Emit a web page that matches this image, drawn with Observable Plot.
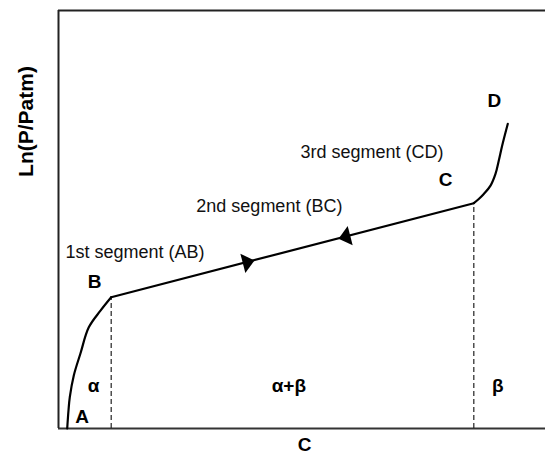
<!DOCTYPE html>
<html>
<head>
<meta charset="utf-8">
<script src="https://cdn.jsdelivr.net/npm/d3@7"></script>
<script src="https://cdn.jsdelivr.net/npm/@observablehq/plot@0.6"></script>
<style>
  html, body { margin: 0; padding: 0; background: #fff; }
  #chart svg { display: block; }
</style>
</head>
<body>
<div id="chart"></div>
<script>
// Curve segments (x: concentration, y: Ln(P/Patm), arbitrary 0–100 units)
const abX = [1.79, 2.05, 2.32, 3.14, 4.52, 6.22, 8.62, 10.82];
const abY = [0, 4.3, 7.5, 12.7, 18.0, 24.2, 28.2, 31.4];
const bcX = [10.82, 85.28];
const bcY = [31.4, 53.9];
const cdX = [85.28, 86.3, 87.33, 88.71, 89.73, 90.41, 91.11, 92.26];
const cdY = [53.9, 54.9, 56.1, 58.1, 60.9, 64.1, 67.7, 72.9];

// Phase boundaries (dashed)
const boundaryX = [10.82, 85.28];
const boundaryTop = [31.4, 53.9];

// Direction arrows on the plateau
const arrowX = [38.85, 58.9];
const arrowY = [39.8, 45.84];
const arrowDir = [1, -1];

// Annotation labels
const segLabels = ["1st segment (AB)", "2nd segment (BC)", "3rd segment (CD)"];
const segLabelX = [1.44, 28.3, 49.7];
const segLabelY = [40.8, 51.7, 64.8];

const pointLabels = ["A", "B", "C", "D"];
const pointLabelX = [4.87, 7.39, 79.5, 89.5];
const pointLabelY = [1.2, 33.7, 58.1, 77.0];

const phaseLabels = ["α", "α+β", "β"];
const phaseLabelX = [7.19, 47.3, 90.2];
const phaseLabelY = [8.85, 8.85, 8.85];

const xLabel = "C";
const yLabel = "Ln(P/Patm)";

// Build tables
const curve = [
  ...abX.map((x, i) => ({seg: "AB", x, y: abY[i]})),
  ...bcX.map((x, i) => ({seg: "BC", x, y: bcY[i]})),
  ...cdX.map((x, i) => ({seg: "CD", x, y: cdY[i]}))
];
const boundaries = boundaryX.map((x, i) => ({x, top: boundaryTop[i]}));
const arrows = arrowX.map((x, i) => ({x, y: arrowY[i], dir: arrowDir[i]}));
const segs = segLabels.map((t, i) => ({t, x: segLabelX[i], y: segLabelY[i]}));
const pts = pointLabels.map((t, i) => ({t, x: pointLabelX[i], y: pointLabelY[i]}));
const phases = phaseLabels.map((t, i) => ({t, x: phaseLabelX[i], y: phaseLabelY[i]}));

const arrowSymbol = {
  draw(context, size) {
    context.moveTo(0, -7);
    context.lineTo(10, 5);
    context.lineTo(-10, 5);
    context.closePath();
  }
};

const FONT = "'Liberation Sans', Arial, Helvetica, sans-serif";
const INK = "#000";

const chart = Plot.plot({
  width: 545,
  height: 453,
  marginLeft: 58,
  marginRight: 0,
  marginTop: 10,
  marginBottom: 25,
  x: {domain: [0, 100], axis: null},
  y: {domain: [0, 100], axis: null},
  style: {fontFamily: FONT, background: "#fff"},
  marks: [
    // partial frame: top, bottom, left
    Plot.ruleY([100], {stroke: "#222", strokeWidth: 2}),
    Plot.ruleY([0], {stroke: "#333", strokeWidth: 2}),
    Plot.ruleX([0], {stroke: "#222", strokeWidth: 2}),
    // dashed phase boundaries
    Plot.ruleX(boundaries, {x: "x", y1: 0, y2: "top", stroke: "#222", strokeWidth: 1.2, strokeDasharray: "5,3"}),
    // isotherm
    Plot.line(curve, {x: "x", y: "y", z: "seg", curve: "catmull-rom", stroke: INK, strokeWidth: 2.2, strokeLinejoin: "round", strokeLinecap: "round"}),
    // arrows
    Plot.dot(arrows, {x: "x", y: "y", symbol: arrowSymbol, fill: INK, stroke: "none", r: 6,
      rotate: d => d.dir > 0 ? 75.6 : 255.6}),
    // labels
    Plot.text(segs, {x: "x", y: "y", text: "t", textAnchor: "start", lineAnchor: "bottom", fontSize: 18, fill: "#111"}),
    Plot.text(pts, {x: "x", y: "y", text: "t", textAnchor: "middle", lineAnchor: "bottom", fontSize: 19, fontWeight: "bold", fill: INK}),
    Plot.text(phases, {x: "x", y: "y", text: "t", textAnchor: "middle", lineAnchor: "bottom", fontSize: 19, fontWeight: "bold", fill: INK}),
    // axis labels
    Plot.text([xLabel], {frameAnchor: "bottom", text: d => d, dx: 2.5, dy: 22, lineAnchor: "bottom", fontSize: 19, fontWeight: "bold", fill: INK}),
    Plot.text([yLabel], {frameAnchor: "left", text: d => d, dx: -32, dy: -98, rotate: -90, textAnchor: "middle", lineAnchor: "middle", fontSize: 21, fontWeight: "bold", fill: INK})
  ]
});

document.getElementById("chart").appendChild(chart);
</script>
</body>
</html>
